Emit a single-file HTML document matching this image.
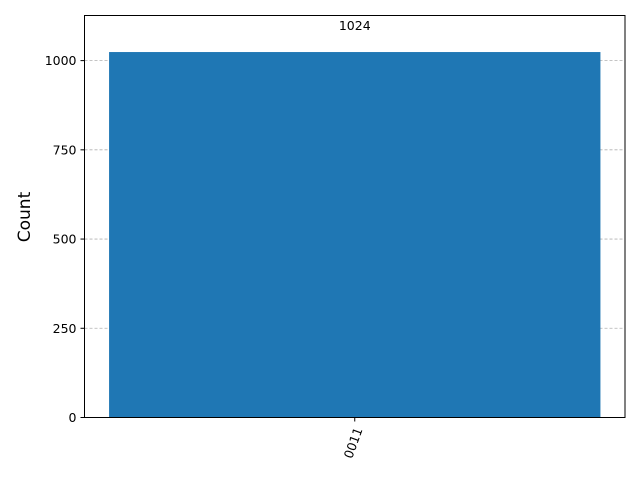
<!DOCTYPE html>
<html><head><meta charset="utf-8"><style>body{margin:0;background:#fff}svg{display:block}text{font-family:"DejaVu Sans","Liberation Sans",sans-serif}</style></head>
<body>
<svg id="chart" width="640" height="480" xmlns="http://www.w3.org/2000/svg">
<rect width="640" height="480" fill="#fff"/>
<g id="grid"></g>
<g id="bars"></g>
<rect x="84.5" y="15.5" width="540.5" height="402" fill="none" stroke="#000" stroke-width="1"/>
<g id="yticks"></g>
<g id="xticks"></g>
<text transform="translate(30,217) rotate(-90)" text-anchor="middle" font-size="17">Count</text>
</svg>
<script>
const categories = ["0011"];
const counts = [1024];
const yTicks = [0, 250, 500, 750, 1000];
const ns = "http://www.w3.org/2000/svg";
const L = 84.5, R = 625, T = 15.5, B = 417.5;
const yMax = 1126.4;
function y(v){ return B - v / yMax * (B - T); }
const n = categories.length;
const slot = (R - L) / (n + 0.1);
function xc(i){ return L + slot * 0.05 + slot * (i + 0.5); }
const bw = slot;
function mk(tag, attrs, parent){ const e = document.createElementNS(ns, tag); for (const k in attrs) e.setAttribute(k, attrs[k]); parent.appendChild(e); return e; }
const grid = document.getElementById('grid'), yt = document.getElementById('yticks'), xt = document.getElementById('xticks'), bars = document.getElementById('bars');
yTicks.forEach(v => {
  const g = mk('line', {x1: L, x2: R, y1: y(v), y2: y(v), stroke: '#b0b0b0', 'stroke-dasharray': '3,2', 'stroke-width': 0.8}, grid);
  
  
  const t = mk('line', {x1: L - 4, x2: L, y1: y(v), y2: y(v), stroke: '#000'}, yt);
  
  
  const tx = mk('text', {x: L - 8, y: y(v) + 4.5, 'text-anchor': 'end', 'font-size': 12.5}, yt);
  tx.textContent = v;
  
  
});
categories.forEach((c, i) => {
  const b = mk('rect', {x: xc(i) - bw / 2, y: y(counts[i]), width: bw, height: B - y(counts[i]), fill: '#1f77b4'}, bars);
  
  
  const lbl = mk('text', {x: xc(i), y: y(counts[i]) - 22, 'text-anchor': 'middle', 'font-size': 12.5}, bars);
  lbl.textContent = counts[i];
  
  
  const t = mk('line', {x1: xc(i), x2: xc(i), y1: B, y2: B + 4, stroke: '#000'}, xt);
  
  
  const tx = mk('text', {transform: 'translate(' + (xc(i) + 8) + ',' + (B + 12) + ') rotate(-70)', 'text-anchor': 'end', 'font-size': 12.5}, xt);
  tx.textContent = c;
  
  
});
</script>
</body></html>
